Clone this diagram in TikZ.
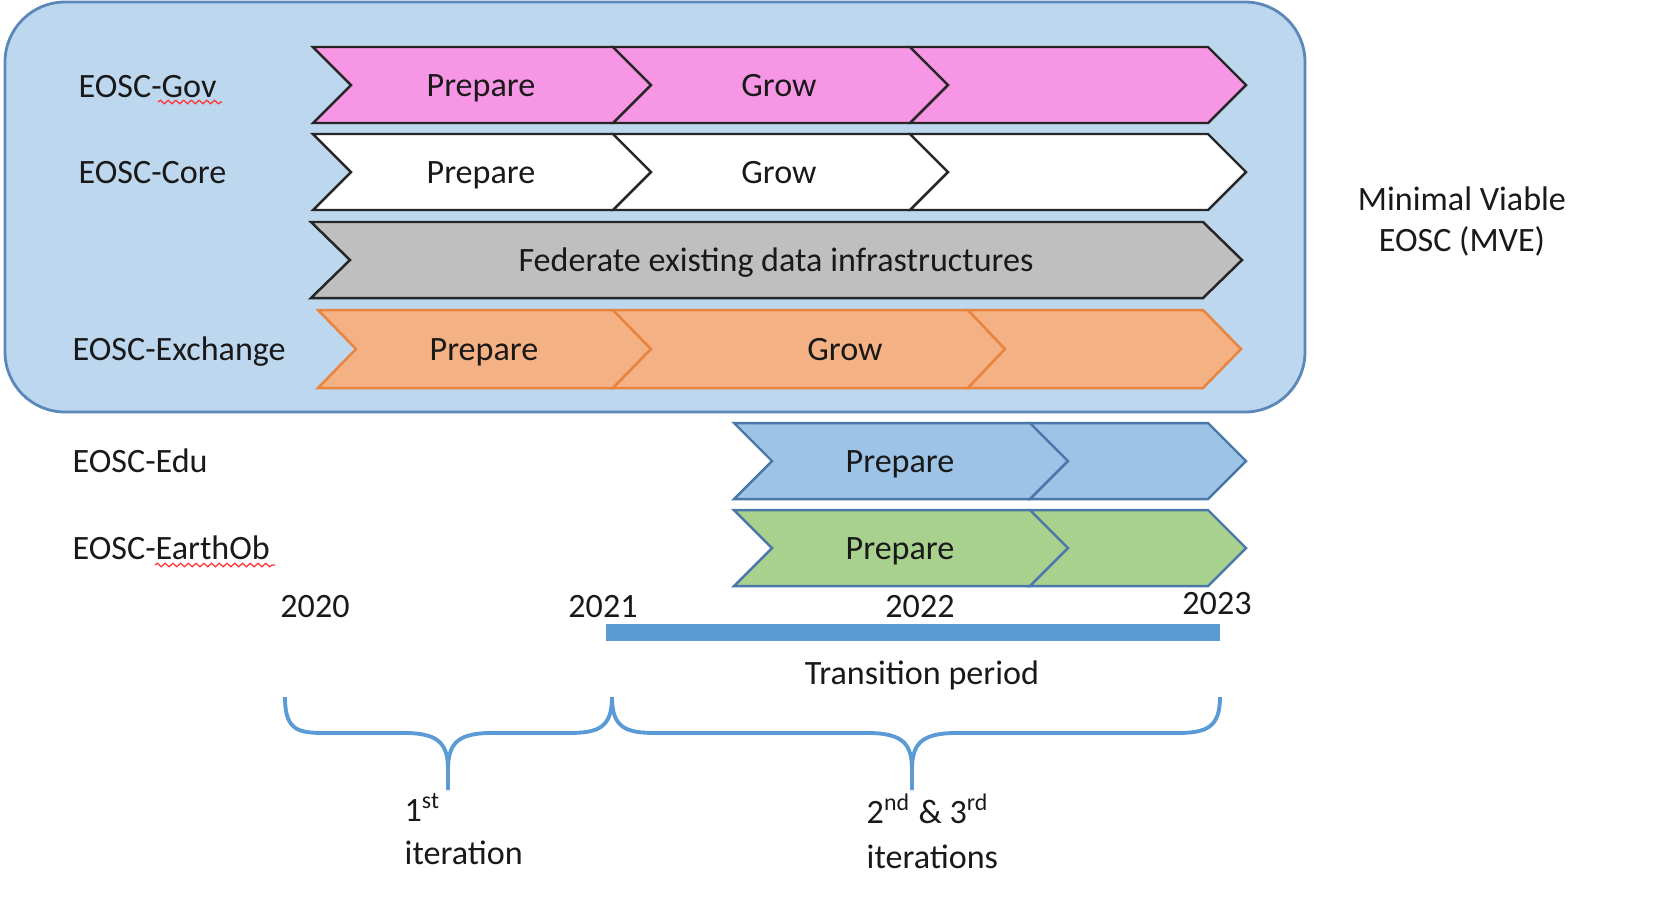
\documentclass[tikz,border=0pt]{standalone}
\usepackage{fontspec}
\setmainfont{Carlito}
\usetikzlibrary{decorations.pathmorphing}
\definecolor{mvefill}{HTML}{BDD7EE}
\definecolor{frameblue}{HTML}{5B87B9}
\definecolor{govpink}{HTML}{F896E6}
\definecolor{fedgray}{HTML}{BFBFBF}
\definecolor{exchfill}{HTML}{F4B183}
\definecolor{exchline}{HTML}{E9843F}
\definecolor{edufill}{HTML}{9DC3E6}
\definecolor{earthfill}{HTML}{A9D18E}
\definecolor{eduline}{HTML}{4A78A8}
\definecolor{tlblue}{HTML}{5B9BD5}

\begin{document}
\begin{tikzpicture} [x=0.01cm, y=-0.01cm,
  every node/.style={font=\fontsize{9.7}{11.4}\selectfont, inner sep=0pt, text=black!90},
  frame/.style={draw=frameblue, fill=mvefill, line width=0.8pt, rounded corners=0.6cm},
  gov/.style={draw=black!85, fill=govpink, line width=0.7pt},
  core/.style={draw=black!85, fill=white, line width=0.7pt},
  fed/.style={draw=black!85, fill=fedgray, line width=0.7pt},
  exch/.style={draw=exchline, fill=exchfill, line width=0.7pt},
  edu/.style={draw=eduline, fill=edufill, line width=0.7pt},
  earth/.style={draw=eduline, fill=earthfill, line width=0.7pt},
  lbl/.style={anchor=base west},
  brace/.style={draw=tlblue, line width=1.1pt},
  squiggle/.style={draw=red!80, line width=0.35pt, decorate,
    decoration={snake, amplitude=0.5pt, segment length=2.2pt}}]
 \useasboundingbox (0,0) rectangle (1658,923);
 % MVE frame
 \draw [frame] (5,2) rectangle (1305,412);
 % EOSC-Gov
 \draw [gov] (313,47) -- (613,47) -- ++(38,38) -- (613,123) -- (313,123) -- ++(38,-38) -- cycle;
 \draw [gov] (613,47) -- (910,47) -- ++(38,38) -- (910,123) -- (613,123) -- ++(38,-38) -- cycle;
 \draw [gov] (910,47) -- (1208,47) -- ++(38,38) -- (1208,123) -- (910,123) -- ++(38,-38) -- cycle;
 % EOSC-Core
 \draw [core] (313,134) -- (613,134) -- ++(38,38) -- (613,210) -- (313,210) -- ++(38,-38) -- cycle;
 \draw [core] (613,134) -- (910,134) -- ++(38,38) -- (910,210) -- (613,210) -- ++(38,-38) -- cycle;
 \draw [core] (910,134) -- (1208,134) -- ++(38,38) -- (1208,210) -- (910,210) -- ++(38,-38) -- cycle;
 % federate
 \draw [fed] (311,222) -- (1203,222) -- ++(39,38) -- (1203,298) -- (311,298) -- ++(39,-38) -- cycle;
 % EOSC-Exchange
 \draw [exch] (318,310) -- (613,310) -- ++(38,39) -- (613,388) -- (318,388) -- ++(38,-39) -- cycle;
 \draw [exch] (613,310) -- (968,310) -- ++(37,39) -- (968,388) -- (613,388) -- ++(38,-39) -- cycle;
 \draw [exch] (968,310) -- (1203,310) -- ++(38,39) -- (1203,388) -- (968,388) -- ++(37,-39) -- cycle;
 % EOSC-Edu
 \draw [edu] (734,423) -- (1030,423) -- ++(38,38) -- (1030,499) -- (734,499) -- ++(38,-38) -- cycle;
 \draw [edu] (1030,423) -- (1208,423) -- ++(38,38) -- (1208,499) -- (1030,499) -- ++(38,-38) -- cycle;
 % EOSC-EarthOb
 \draw [earth] (734,510) -- (1030,510) -- ++(38,38) -- (1030,586) -- (734,586) -- ++(38,-38) -- cycle;
 \draw [earth] (1030,510) -- (1208,510) -- ++(38,38) -- (1208,586) -- (1030,586) -- ++(38,-38) -- cycle;
 % row labels
 \node [lbl] (govlbl) at (78,97) {EOSC-Gov};
 \node [lbl] (corelbl) at (78,183) {EOSC-Core};
 \node [lbl] (exchlbl) at (72,360) {EOSC-Exchange};
 \node [lbl] (edulbl) at (72,472) {EOSC-Edu};
 \node [lbl] (earthlbl) at (72,559) {EOSC-EarthOb};
 \draw [squiggle] (158,102) -- (222,102);
 \draw [squiggle] (155,565) -- (275,565);
 % phase texts
 \node [anchor=base] (govprep) at (481,96) {Prepare};
 \node [anchor=base] (govgrow) at (779,96) {Grow};
 \node [anchor=base] (coreprep) at (481,183) {Prepare};
 \node [anchor=base] (coregrow) at (779,183) {Grow};
 \node [anchor=base] (fedtxt) at (776,271) {Federate existing data infrastructures};
 \node [anchor=base] (exchprep) at (484,360) {Prepare};
 \node [anchor=base] (exchgrow) at (845,360) {Grow};
 \node [anchor=base] (eduprep) at (900,472) {Prepare};
 \node [anchor=base] (earthprep) at (900,559) {Prepare};
 \node [anchor=base, align=center] (mve) at (1462,251) {Minimal Viable\\EOSC (MVE)};
 % time line
 \node [anchor=base] (y2020) at (315,617) {2020};
 \node [anchor=base] (y2021) at (603,617) {2021};
 \node [anchor=base] (y2022) at (920,617) {2022};
 \node [anchor=base] (y2023) at (1217,614) {2023};
 \fill [tlblue] (606,624) rectangle (1220,641);
 \node [anchor=base] (transition) at (922,684) {Transition period};
 % iterations
 \draw [brace] (285,697) .. controls (285,733) and (300,733) .. (330,733) -- (405,733)
   .. controls (440,733) and (448,745) .. (448,770) -- (448,790);
 \draw [brace] (448,770) .. controls (448,745) and (456,733) .. (491,733) -- (568,733)
   .. controls (598,733) and (612,728) .. (612,697);
 \draw [brace] (612,697) .. controls (612,728) and (626,733) .. (656,733) -- (868,733)
   .. controls (904,733) and (912,745) .. (912,770) -- (912,790);
 \draw [brace] (912,770) .. controls (912,745) and (920,733) .. (956,733) -- (1176,733)
   .. controls (1206,733) and (1220,728) .. (1220,697);
 \node [anchor=base west, align=left, font=\fontsize{9.7}{12.2}\selectfont] (iter1) at (404,864) {1\textsuperscript{st}\\iteration};
 \node [anchor=base west, align=left, font=\fontsize{9.7}{12.6}\selectfont] (iter23) at (866,868) {2\textsuperscript{nd} \& 3\textsuperscript{rd}\\iterations};
\end{tikzpicture}
\end{document}
